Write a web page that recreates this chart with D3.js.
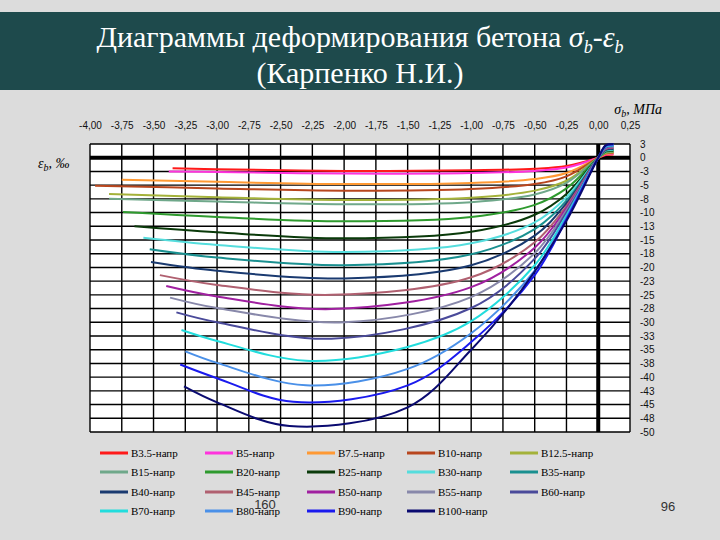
<!DOCTYPE html>
<html><head><meta charset="utf-8">
<script src="https://cdn.jsdelivr.net/npm/d3@7"></script>
<style>body{margin:0;background:#dedede} svg text.serif{font-family:'Times New Roman','Liberation Serif','DejaVu Serif',serif !important}</style></head>
<body><svg id="c" width="720" height="540"></svg>
<script>
const names=["B3.5-напр","B5-напр","B7.5-напр","B10-напр","B12.5-напр","B15-напр","B20-напр","B25-напр","B30-напр","B35-напр","B40-напр","B45-напр","B50-напр","B55-напр","B60-напр","B70-напр","B80-напр","B90-напр","B100-напр"];
const colors=["#ff1a1a","#ff33dd","#ff9933","#b8461e","#a4b23a","#6fa88a","#2e9a2e","#0a3a0a","#55dddd","#1a9090","#1a3a70","#b06070","#a020a0","#8888aa","#4a4a9a","#22dddd","#4a90e8","#1a1aee","#0a0a70"];
const curves=[
[[-3.35,-1.9],[-3.0,-2.1],[-2.0,-2.4],[-1.0,-2.3],[-0.5,-2.0],[-0.25,-1.5],[0,0],[0.06,0.5],[0.12,0.6]],
[[-3.38,-2.5],[-3.0,-2.6],[-2.0,-2.9],[-1.0,-2.8],[-0.5,-2.4],[-0.25,-1.8],[0,0],[0.06,0.6],[0.12,0.7]],
[[-3.75,-4.0],[-3.0,-4.4],[-2.0,-4.8],[-1.0,-4.6],[-0.5,-3.9],[-0.25,-2.8],[0,0],[0.06,0.7],[0.12,0.8]],
[[-3.96,-5.1],[-3.0,-5.6],[-2.0,-6.0],[-1.0,-5.7],[-0.5,-4.8],[-0.25,-3.4],[0,0],[0.06,0.8],[0.12,0.9]],
[[-3.85,-6.6],[-3.0,-7.2],[-2.0,-7.7],[-1.0,-7.3],[-0.5,-6.0],[-0.25,-4.2],[0,0],[0.06,0.9],[0.12,1.0]],
[[-3.85,-7.5],[-3.0,-8.0],[-2.0,-8.5],[-1.0,-8.1],[-0.5,-6.7],[-0.25,-4.6],[0,0],[0.06,1.0],[0.12,1.1]],
[[-3.74,-9.9],[-3.0,-10.8],[-2.0,-11.6],[-1.0,-10.8],[-0.5,-8.6],[-0.25,-5.6],[0,0],[0.06,1.1],[0.12,1.2]],
[[-3.65,-12.5],[-3.0,-13.6],[-2.0,-14.7],[-1.0,-13.5],[-0.5,-10.4],[-0.25,-6.6],[0,0],[0.06,1.2],[0.12,1.3]],
[[-3.58,-14.6],[-3.0,-15.9],[-2.0,-17.2],[-1.0,-15.6],[-0.5,-11.8],[-0.25,-7.2],[0,0],[0.06,1.3],[0.12,1.4]],
[[-3.53,-16.7],[-3.0,-18.2],[-2.0,-19.6],[-1.0,-17.6],[-0.5,-13.0],[-0.25,-7.8],[0,0],[0.06,1.4],[0.12,1.5]],
[[-3.52,-19.0],[-3.0,-20.6],[-2.0,-22.0],[-1.0,-19.6],[-0.5,-14.2],[-0.25,-8.3],[0,0],[0.06,1.5],[0.12,1.6]],
[[-3.45,-21.4],[-3.0,-23.2],[-2.1,-25.0],[-1.0,-21.8],[-0.5,-15.4],[-0.25,-8.8],[0,0],[0.06,1.6],[0.12,1.8]],
[[-3.4,-23.4],[-3.0,-25.3],[-2.1,-27.6],[-1.0,-23.6],[-0.5,-16.4],[-0.25,-9.2],[0,0],[0.06,1.7],[0.12,1.9]],
[[-3.37,-25.5],[-3.0,-27.4],[-2.0,-30.0],[-1.0,-25.4],[-0.5,-17.4],[-0.25,-9.6],[0,0],[0.06,1.8],[0.12,2.0]],
[[-3.32,-28.2],[-3.0,-30.0],[-2.1,-33.0],[-1.0,-27.4],[-0.5,-18.4],[-0.25,-10.0],[0,0],[0.06,1.9],[0.12,2.1]],
[[-3.28,-31.4],[-3.0,-33.4],[-2.3,-37.0],[-1.5,-34.5],[-1.0,-29.8],[-0.5,-19.6],[-0.25,-10.5],[0,0],[0.06,2.0],[0.12,2.2]],
[[-3.25,-35.3],[-3.0,-37.4],[-2.3,-41.5],[-1.5,-38.5],[-1.0,-32.0],[-0.5,-20.6],[-0.25,-10.9],[0,0],[0.06,2.1],[0.12,2.3]],
[[-3.29,-37.7],[-3.0,-40.2],[-2.4,-44.5],[-1.5,-41.5],[-1.0,-33.6],[-0.5,-21.4],[-0.25,-11.2],[0,0],[0.06,2.2],[0.12,2.4]],
[[-3.26,-41.7],[-3.0,-44.6],[-2.43,-48.9],[-1.5,-45.5],[-1.0,-35.0],[-0.6,-24.0],[-0.25,-11.5],[0,0],[0.06,2.3],[0.12,2.5]]
];
const xTicks=d3.range(-4,0.26,0.25);
const yTicks=d3.range(2.5,-50.1,-2.5);
const yLabels=["3","0","-3","-5","-8","-10","-13","-15","-18","-20","-23","-25","-28","-30","-33","-35","-38","-40","-43","-45","-48","-50"];
const SERIF="'Times New Roman','Liberation Serif','DejaVu Serif',serif";

const svg=d3.select("#c");
svg.append("rect").attr("width",720).attr("height",540).attr("fill","#dcdcdc");
svg.append("rect").attr("x",0).attr("y",12).attr("width",720).attr("height",78).attr("fill","#1e4a4c");
svg.append("text").attr("class","serif").attr("font-family",SERIF).attr("x",360).attr("y",47).attr("text-anchor","middle").attr("fill","#fff")
 .attr("font-size",30)
 .html('Диаграммы деформирования бетона <tspan font-style="italic">σ</tspan><tspan font-style="italic" font-size="18" dy="6">b</tspan><tspan dy="-6">-</tspan><tspan font-style="italic">ε</tspan><tspan font-style="italic" font-size="18" dy="6">b</tspan>');
svg.append("text").attr("class","serif").attr("font-family",SERIF).attr("x",360).attr("y",83).attr("text-anchor","middle").attr("fill","#fff")
 .attr("font-size",30).text("(Карпенко Н.И.)");

const x=d3.scaleLinear().domain([-4,0.25]).range([90,630]);
const y=d3.scaleLinear().domain([2.5,-50]).range([144,432]);
const g=svg.append("g");
g.append("rect").attr("x",90).attr("y",144).attr("width",540).attr("height",288).attr("fill","#fff");
g.selectAll("line.v").data(xTicks).join("line").attr("x1",d=>x(d)).attr("x2",d=>x(d)).attr("y1",144).attr("y2",432)
 .attr("stroke","#000").attr("stroke-width",d=>Math.abs(d)<1e-9?4:1.4);
g.selectAll("line.h").data(yTicks).join("line").attr("y1",d=>y(d)).attr("y2",d=>y(d)).attr("x1",90).attr("x2",630)
 .attr("stroke","#000").attr("stroke-width",d=>Math.abs(d)<1e-9?4:1.4);

const fmt=d=>d3.format(".2f")(d).replace("−","-").replace(".",",");
const xa=d3.axisTop(x).tickValues(xTicks).tickSize(0).tickFormat(fmt);
svg.append("g").attr("transform","translate(0,132)").call(xa).call(s=>{s.select(".domain").remove();
 s.selectAll("text").style("font-family","Liberation Sans").style("font-size","10px").attr("fill","#111");});
const ya=d3.axisRight(y).tickValues(yTicks).tickSize(0).tickFormat((d,i)=>yLabels[i]);
svg.append("g").attr("transform","translate(637,0)").call(ya).call(s=>{s.select(".domain").remove();
 s.selectAll("text").style("font-family","Liberation Sans").style("font-size","10px").attr("fill","#111");});

svg.append("text").attr("class","serif").attr("font-family",SERIF).attr("x",662).attr("y",114).attr("text-anchor","end").attr("font-style","italic").attr("font-size",14)
 .html('σ<tspan font-size="10" dy="3">b</tspan><tspan dy="-3">, МПа</tspan>');
svg.append("text").attr("class","serif").attr("font-family",SERIF).attr("x",38).attr("y",168).attr("font-style","italic").attr("font-size",14)
 .html('ε<tspan font-size="10" dy="3">b</tspan><tspan dy="-3">, ‰</tspan>');

const line=d3.line().x(d=>x(d[0])).y(d=>y(d[1])).curve(d3.curveCatmullRom.alpha(0.5));
g.selectAll("path.c").data(curves).join("path").attr("d",line).attr("fill","none")
 .attr("stroke",(d,i)=>colors[i]).attr("stroke-width",2);

const colX=[100,205,307,407,510], rowY=[453,472,492,511];
const lg=svg.selectAll("g.lg").data(names).join("g")
 .attr("transform",(d,i)=>`translate(${colX[i%5]},${rowY[Math.floor(i/5)]})`);
lg.append("line").attr("x1",0).attr("x2",28).attr("stroke",(d,i)=>colors[i]).attr("stroke-width",3);
lg.append("text").attr("class","serif").attr("font-family",SERIF).attr("x",31).attr("y",4).text(d=>d).attr("font-size",11);
svg.append("text").attr("x",265).attr("y",509).attr("text-anchor","middle").style("font-family","Liberation Sans").style("font-size","13px").attr("fill","#333").text("160");
svg.append("text").attr("x",668).attr("y",511).attr("text-anchor","middle").style("font-family","Liberation Sans").style("font-size","13px").attr("fill","#333").text("96");
</script></body></html>
